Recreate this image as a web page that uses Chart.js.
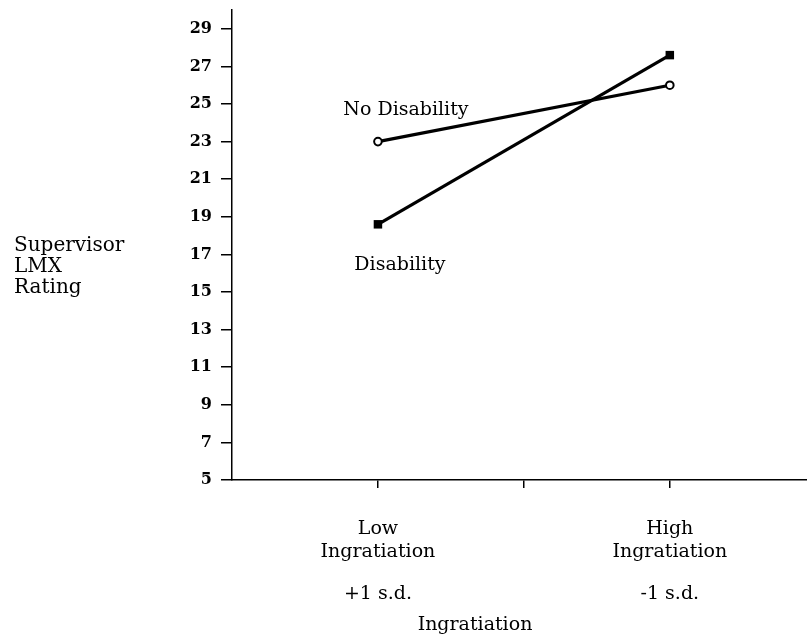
<!DOCTYPE html>
<html>
<head>
<meta charset="utf-8">
<script src="https://cdn.jsdelivr.net/npm/chart.js@4.4.1/dist/chart.umd.min.js"></script>
<style>
  html, body { margin: 0; padding: 0; background: #fff; }
  #wrap { width: 807px; height: 637px; }
</style>
</head>
<body>
<div id="wrap"><canvas id="c" width="807" height="637"></canvas></div>
<script>
// ---- data ----
const xPositions = [1, 3];
const categoryLines = { 1: ['Low', 'Ingratiation'], 3: ['High', 'Ingratiation'] };
const sdLabels = ['+1 s.d.', '-1 s.d.'];
const noDisability = [23.0, 26.0];
const disability = [18.6, 27.6];
const seriesNames = ['No Disability', 'Disability'];
const yTicks = [5, 7, 9, 11, 13, 15, 17, 19, 21, 23, 25, 27, 29];
const xTicks = [1, 2, 3];
const yTitleLines = ['Supervisor', 'LMX', 'Rating'];
const xTitle = 'Ingratiation';

const FONT = '"DejaVu Serif", serif';

const textPlugin = {
  id: 'texts',
  afterDraw(chart) {
    const ctx = chart.ctx;
    const xs = chart.scales.x, ys = chart.scales.y;
    ctx.save();
    ctx.fillStyle = '#000';
    ctx.textBaseline = 'middle';
    // y title
    ctx.font = '20px ' + FONT;
    ctx.textAlign = 'left';
    yTitleLines.forEach((t, i) => ctx.fillText(t, 14, 246 + i * 21));
    // series labels
    ctx.font = '19px ' + FONT;
    ctx.textAlign = 'center';
    ctx.fillText(seriesNames[0], xs.getPixelForValue(xPositions[0]) + 28, ys.getPixelForValue(noDisability[0]) - 32);
    ctx.fillText(seriesNames[1], xs.getPixelForValue(xPositions[0]) + 22, ys.getPixelForValue(disability[0]) + 41);
    // s.d. labels
    sdLabels.forEach((t, i) => ctx.fillText(t, xs.getPixelForValue(xPositions[i]), 594));
    // x title
    ctx.fillText(xTitle, 475, 625);
    ctx.restore();
  }
};

new Chart(document.getElementById('c'), {
  type: 'line',
  data: {
    datasets: [
      {
        label: seriesNames[0],
        data: xPositions.map((x, i) => ({ x, y: noDisability[i] })),
        borderColor: '#000',
        borderWidth: 3.2,
        pointStyle: 'circle',
        pointRadius: 3.8,
        pointBackgroundColor: '#fff',
        pointBorderColor: '#000',
        pointBorderWidth: 2,
        clip: false
      },
      {
        label: seriesNames[1],
        data: xPositions.map((x, i) => ({ x, y: disability[i] })),
        borderColor: '#000',
        borderWidth: 3.2,
        pointStyle: 'rect',
        pointRadius: 6,
        pointBackgroundColor: '#000',
        pointBorderColor: '#000',
        pointBorderWidth: 0,
        clip: false
      }
    ]
  },
  options: {
    responsive: false,
    animation: false,
    events: [],
    layout: { autoPadding: false, padding: { top: 10, left: 0, right: 0, bottom: 0 } },
    plugins: { legend: { display: false }, tooltip: { enabled: false } },
    scales: {
      x: {
        type: 'linear',
        min: 0,
        max: 3.94,
        afterBuildTicks(s) { s.ticks = xTicks.map(v => ({ value: v })); },
        afterFit(s) { s.height = 157; s.paddingLeft = 0; s.paddingRight = 0; },
        border: { display: true, color: '#000', width: 1.5 },
        grid: { drawOnChartArea: false, drawTicks: true, tickLength: 8, color: '#000', lineWidth: 1.5 },
        ticks: {
          color: '#000',
          font: { family: FONT, size: 19, lineHeight: 1.2 },
          padding: 30,
          maxRotation: 0,
          autoSkip: false,
          callback: (v) => categoryLines[v] || ''
        }
      },
      y: {
        type: 'linear',
        min: 5,
        max: 30,
        afterBuildTicks(s) { s.ticks = yTicks.map(v => ({ value: v })); },
        afterFit(s) { s.width = 232; s.paddingTop = 0; s.paddingBottom = 0; },
        border: { display: true, color: '#000', width: 1.5 },
        grid: { drawOnChartArea: false, drawTicks: true, tickLength: 11, color: '#000', lineWidth: 1.5 },
        ticks: {
          color: '#000',
          font: { family: FONT, size: 16, weight: 'bold' },
          padding: 9,
          autoSkip: false
        }
      }
    }
  },
  plugins: [textPlugin]
});
</script>
</body>
</html>
